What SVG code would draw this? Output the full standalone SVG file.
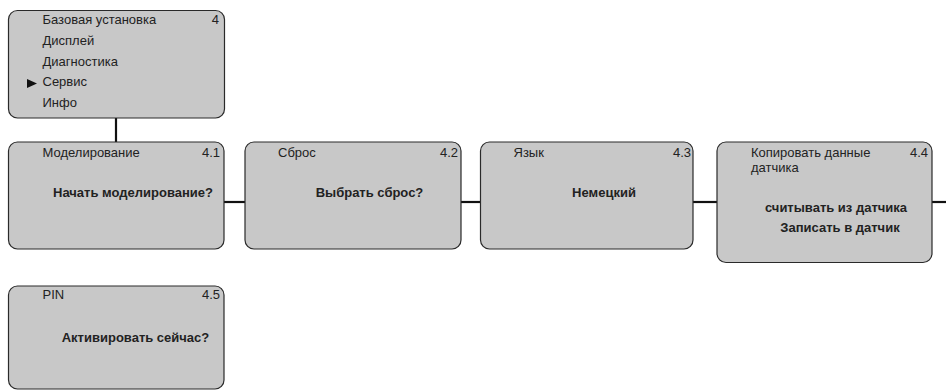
<svg xmlns="http://www.w3.org/2000/svg" width="946" height="390" viewBox="0 0 946 390">
<style>
.box{fill:#c8c8c8;stroke:#2a2a2a;stroke-width:1.2}
.t{font-family:"Liberation Sans",Arial,sans-serif;font-size:13px;fill:#222}
.b{font-family:"Liberation Sans",Arial,sans-serif;font-size:13px;font-weight:bold;fill:#222;text-anchor:middle}
.n{text-anchor:end}
.c{stroke:#111;stroke-width:2.2;fill:none}
</style>
<rect width="946" height="390" fill="#fff"/>
<g id="connectors">
<line class="c" x1="116" y1="118" x2="116" y2="142"/>
<line class="c" x1="224" y1="202" x2="245" y2="202"/>
<line class="c" x1="461" y1="202" x2="480" y2="202"/>
<line class="c" x1="693" y1="202" x2="717" y2="202"/>
<line class="c" x1="932" y1="202" x2="946" y2="202"/>
</g>
<g id="menu">
<rect class="box" x="8.5" y="10.5" width="216" height="107.5" rx="9"/>
<text class="t" x="42.5" y="24">Базовая установка</text>
<text class="t n" x="219" y="24">4</text>
<text class="t" x="42.5" y="45">Дисплей</text>
<text class="t" x="42.5" y="65.5">Диагностика</text>
<text class="t" x="42.5" y="86">Сервис</text>
<path d="M27 79 L37 83.5 L27 88 Z" fill="#111"/>
<text class="t" x="42.5" y="107">Инфо</text>
</g>
<g id="n41">
<rect class="box" x="8.5" y="142" width="215.5" height="107" rx="9"/>
<text class="t" x="42.5" y="157">Моделирование</text>
<text class="t n" x="220" y="157">4.1</text>
<text class="b" x="133" y="197">Начать моделирование?</text>
</g>
<g id="n42">
<rect class="box" x="245" y="142" width="216" height="107" rx="9"/>
<text class="t" x="278" y="157">Сброс</text>
<text class="t n" x="458" y="157">4.2</text>
<text class="b" x="369.5" y="197">Выбрать сброс?</text>
</g>
<g id="n43">
<rect class="box" x="480.5" y="142" width="212.5" height="107" rx="9"/>
<text class="t" x="513.5" y="157">Язык</text>
<text class="t n" x="691" y="157">4.3</text>
<text class="b" x="604" y="197">Немецкий</text>
</g>
<g id="n44">
<rect class="box" x="717" y="142" width="215" height="120.5" rx="9"/>
<text class="t" x="751" y="157">Копировать данные</text>
<text class="t" x="751" y="172">датчика</text>
<text class="t n" x="928" y="157">4.4</text>
<text class="b" x="836" y="212">считывать из датчика</text>
<text class="b" x="840" y="232">Записать в датчик</text>
</g>
<g id="n45">
<rect class="box" x="8.5" y="286" width="215.5" height="103" rx="9"/>
<text class="t" x="42.5" y="299">PIN</text>
<text class="t n" x="220" y="299">4.5</text>
<text class="b" x="135.5" y="342">Активировать сейчас?</text>
</g>
</svg>
